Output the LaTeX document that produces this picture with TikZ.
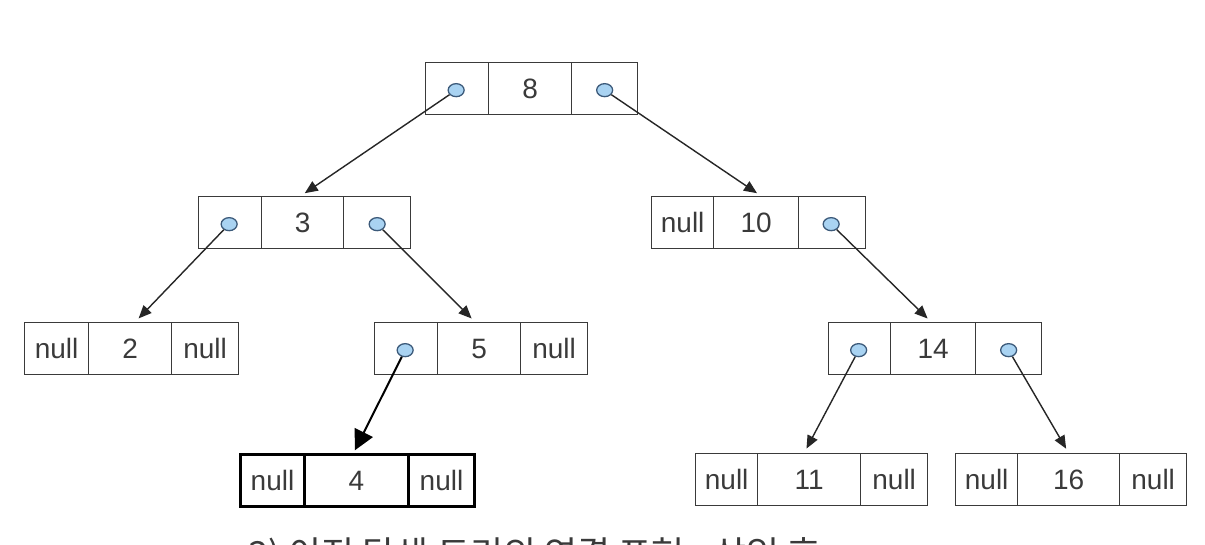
\documentclass[tikz,border=0pt]{standalone}
\usepackage{fontspec}
\setmainfont{Liberation Sans}
\newfontfamily\kofont{Noto Sans CJK KR}
\usetikzlibrary{arrows.meta,calc,shapes.geometric}
\definecolor{boxline}{HTML}{3A3A3A}
\definecolor{ptrfill}{HTML}{A9D3F2}
\definecolor{ptrline}{HTML}{3C5A7A}
\definecolor{txt}{HTML}{3A3A3A}
\tikzset{
  cell/.style={draw=boxline, line width=1.3pt, minimum height=52pt, inner sep=0pt,
    font=\fontsize{28}{28}\selectfont, text=txt, anchor=north west},
  boldcell/.style={cell, draw=black, line width=3pt},
  ptr/.style={ellipse, draw=ptrline, fill=ptrfill, line width=1.3pt,
    minimum width=16pt, minimum height=13pt, inner sep=0pt},
  link/.style={draw=black!85, line width=1.4pt, -{Triangle[length=13pt,width=11pt]}, shorten >=5pt},
  biglink/.style={draw=black, line width=2pt, -{Triangle[length=20pt,width=20pt]}, shorten >=3pt}
}
% #1 name, #2-#5 x borders, #6 top, #7 #8 #9 texts
\newcommand\recnode[9]{%
  \node[cell, minimum width={#3-#2}] (#1-l) at (#2,#6) {#7};
  \node[cell, minimum width={#4-#3}] (#1-c) at (#3,#6) {#8};
  \node[cell, minimum width={#5-#4}] (#1-r) at (#4,#6) {#9};}
\newcommand\boldrecnode[9]{%
  \node[boldcell, minimum width={#3-#2}] (#1-l) at (#2,#6) {#7};
  \node[boldcell, minimum width={#4-#3}] (#1-c) at (#3,#6) {#8};
  \node[boldcell, minimum width={#5-#4}] (#1-r) at (#4,#6) {#9};}
\begin{document}
\begin{tikzpicture}[x=1pt,y=-1pt]
\useasboundingbox[fill=white] (0,0) rectangle (1205,544);

\recnode{n8}{425}{488}{571}{637}{62}{}{8}{}
\recnode{n3}{198}{261}{343}{410}{196}{}{3}{}
\recnode{n10}{651}{713}{798}{865}{196}{null}{10}{}
\recnode{n2}{24}{88}{171}{238}{322}{null}{2}{null}
\recnode{n5}{374}{437}{520}{587}{322}{}{5}{null}
\recnode{n14}{828}{890}{975}{1041}{322}{}{14}{}
\boldrecnode{n4}{239}{303}{407}{473}{453}{null}{4}{null}
\recnode{n11}{695}{757}{860}{927}{453}{null}{11}{null}
\recnode{n16}{955}{1017}{1119}{1186}{453}{null}{16}{null}

\node[ptr] (p8l) at ($(n8-l.center)+(-1,1.5)$) {};
\node[ptr] (p8r) at ($(n8-r.center)+(0,1.5)$) {};
\node[ptr] (p3l) at ($(n3-l.center)+(-1,1.5)$) {};
\node[ptr] (p3r) at ($(n3-r.center)+(0,1.5)$) {};
\node[ptr] (p10r) at ($(n10-r.center)+(-1,1.5)$) {};
\node[ptr] (p5l) at ($(n5-l.center)+(-1,1.5)$) {};
\node[ptr] (p14l) at ($(n14-l.center)+(-1,1.5)$) {};
\node[ptr] (p14r) at ($(n14-r.center)+(0,1.5)$) {};

\draw[link] (p8l) -- ($(n3-c.north)+(-2,0)$);
\draw[link] (p8r) -- ($(n10-c.north)+(5,0)$);
\draw[link] (p3l) -- ($(n2-c.north)+(5,0)$);
\draw[link] (p3r) -- ($(n5-c.north)+(-4,0)$);
\draw[link] (p10r) -- ($(n14-c.north)+(-2,0)$);
\draw[biglink] (p5l) -- ($(n4-c.north)+(-3,0)$);
\draw[link] (p14l) -- ($(n11-c.north)+(-5,0)$);
\draw[link] (p14r) -- (n16-c.north);

\begin{scope}
\clip (0,0) rectangle (1205,544);
\node[anchor=base west, inner sep=0pt, text=txt, font=\kofont\fontsize{36}{36}\selectfont] (cap) at (248,567) {3) 이진 탐색 트리의 연결 표현 - 삽입 후};
\end{scope}
\end{tikzpicture}
\end{document}
